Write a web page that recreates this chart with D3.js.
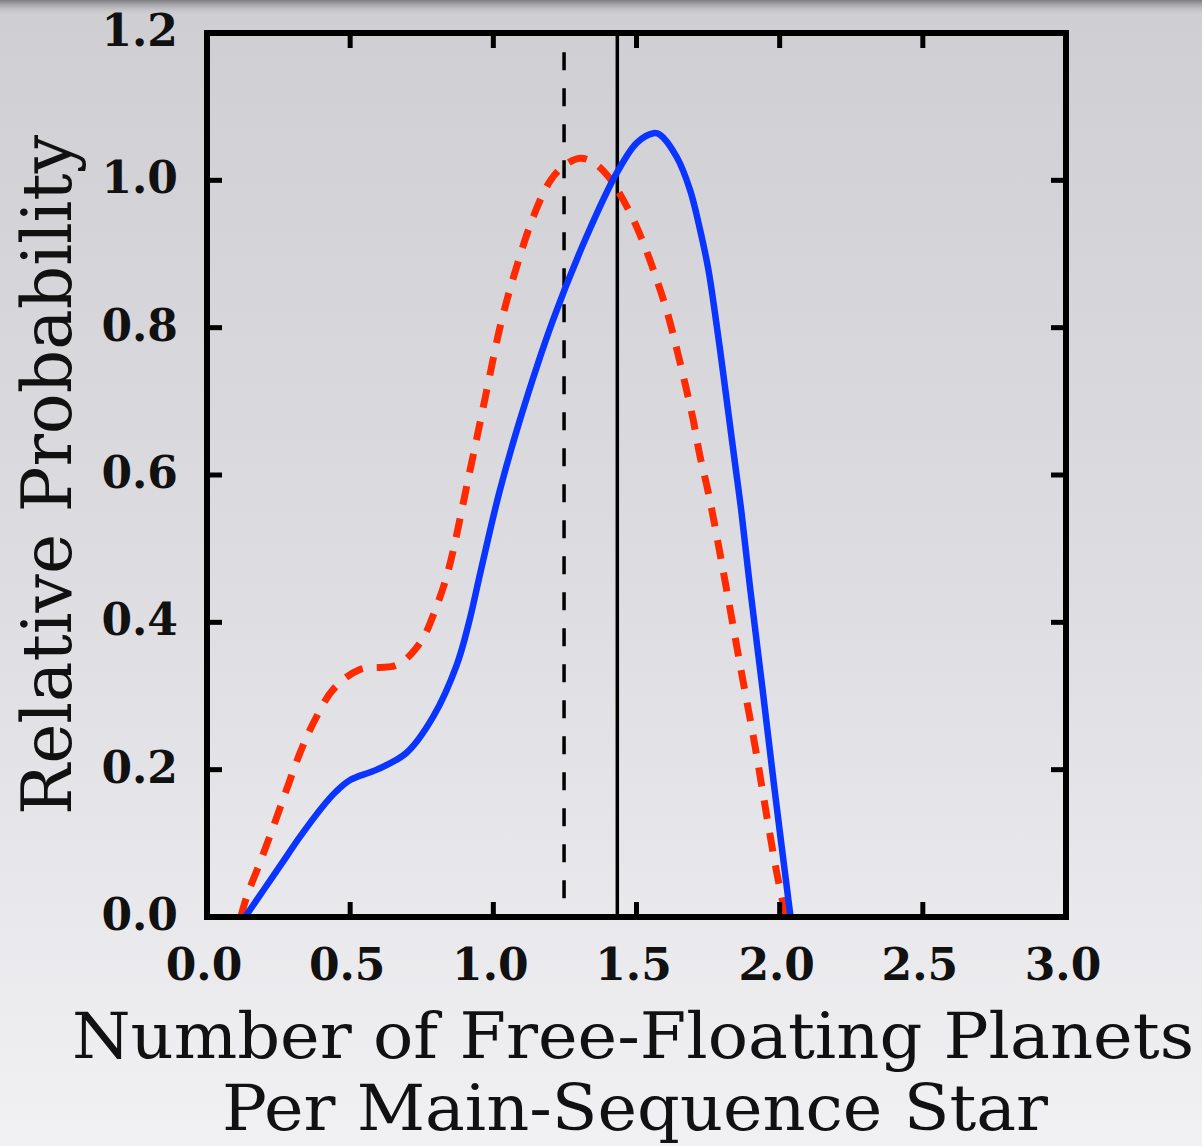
<!DOCTYPE html>
<html>
<head>
<meta charset="utf-8">
<script src="https://cdn.jsdelivr.net/npm/d3@7"></script>
<style>
html,body{margin:0;padding:0;background:#e2e2e6;}
svg{display:block;}
</style>
</head>
<body>
<svg id="chart" width="1202" height="1146"></svg>
<script>
// ---- data ----
const xTicks = [0.0, 0.5, 1.0, 1.5, 2.0, 2.5, 3.0];
const yTicks = [0.0, 0.2, 0.4, 0.6, 0.8, 1.0, 1.2];
const xTickLabels = ["0.0","0.5","1.0","1.5","2.0","2.5","3.0"];
const yTickLabels = ["0.0","0.2","0.4","0.6","0.8","1.0","1.2"];

// blue solid curve
const blueX = [0.133, 0.20, 0.26, 0.325, 0.40, 0.45, 0.50, 0.593, 0.697, 0.79, 0.872, 0.915, 0.955, 1.02, 1.093, 1.209, 1.326, 1.431, 1.501, 1.559, 1.582, 1.640, 1.687, 1.722, 1.751, 1.774, 1.798, 1.821, 1.844, 1.867, 1.896, 1.94, 1.98, 2.038];
const blueY = [0.0, 0.038, 0.072, 0.109, 0.148, 0.170, 0.186, 0.200, 0.223, 0.272, 0.342, 0.400, 0.468, 0.575, 0.675, 0.811, 0.924, 1.010, 1.051, 1.064, 1.062, 1.032, 0.987, 0.933, 0.879, 0.820, 0.752, 0.684, 0.616, 0.548, 0.449, 0.310, 0.180, 0.0];

// red dashed curve
const redX = [0.118, 0.139, 0.185, 0.232, 0.278, 0.325, 0.371, 0.441, 0.534, 0.663, 0.744, 0.802, 0.843, 0.919, 0.977, 1.023, 1.070, 1.140, 1.198, 1.244, 1.303, 1.350, 1.402, 1.471, 1.524, 1.570, 1.605, 1.640, 1.669, 1.698, 1.722, 1.751, 1.798, 1.867, 1.914, 1.955, 1.990, 2.022];
const redY = [0.0, 0.028, 0.074, 0.123, 0.173, 0.223, 0.263, 0.309, 0.336, 0.342, 0.372, 0.422, 0.471, 0.607, 0.715, 0.800, 0.868, 0.951, 0.999, 1.019, 1.030, 1.024, 1.005, 0.961, 0.915, 0.866, 0.824, 0.772, 0.725, 0.675, 0.625, 0.576, 0.480, 0.331, 0.232, 0.137, 0.060, 0.0];

const solidLineX = 1.433;
const dashedLineX = 1.247;
const dashedLineTop = 1.174;

const xLabelLines = ["Number of Free-Floating Planets", "Per Main-Sequence Star"];
const yLabel = "Relative Probability";

// ---- layout ----
const svg = d3.select("#chart");
const W = 1202, H = 1146;
const pL = 207, pR = 1066, pT = 33, pB = 917;

const x = d3.scaleLinear().domain([0, 3]).range([pL, pR]);
const y = d3.scaleLinear().domain([0, 1.2]).range([pB, pT]);

// background
const defs = svg.append("defs");
const bg = defs.append("linearGradient").attr("id","bg").attr("x1",0).attr("y1",0).attr("x2",0).attr("y2",1);
bg.append("stop").attr("offset","0%").attr("stop-color","#cfced3");
bg.append("stop").attr("offset","50%").attr("stop-color","#dddde1");
bg.append("stop").attr("offset","100%").attr("stop-color","#f1f1f4");
svg.append("rect").attr("width",W).attr("height",H).attr("fill","url(#bg)");
const sh = defs.append("linearGradient").attr("id","sh").attr("x1",0).attr("y1",0).attr("x2",0).attr("y2",1);
sh.append("stop").attr("offset","0%").attr("stop-color","#7c7b80").attr("stop-opacity",1);
sh.append("stop").attr("offset","100%").attr("stop-color","#cfced3").attr("stop-opacity",0);
svg.append("rect").attr("width",W).attr("height",16).attr("fill","url(#sh)");

defs.append("clipPath").attr("id","clip").append("rect")
  .attr("x",pL).attr("y",pT).attr("width",pR-pL).attr("height",pB-pT);

const plot = svg.append("g").attr("clip-path","url(#clip)");

// vertical reference lines
plot.append("line")
  .attr("x1",x(dashedLineX)).attr("x2",x(dashedLineX))
  .attr("y1",y(dashedLineTop)).attr("y2",y(0))
  .attr("stroke","#000").attr("stroke-width",3.5).attr("stroke-dasharray","18,18");
plot.append("line")
  .attr("x1",x(solidLineX)).attr("x2",x(solidLineX))
  .attr("y1",y(1.2)).attr("y2",y(0))
  .attr("stroke","#000").attr("stroke-width",3.5);

const line = d3.line().x(d=>x(d[0])).y(d=>y(d[1])).curve(d3.curveCatmullRom.alpha(0.5));

plot.append("path")
  .datum(redX.map((v,i)=>[v, redY[i]]))
  .attr("d", line).attr("fill","none")
  .attr("stroke","#ff2a00").attr("stroke-width",7).attr("stroke-dasharray","19,14");

plot.append("path")
  .datum(blueX.map((v,i)=>[v, blueY[i]]))
  .attr("d", line).attr("fill","none")
  .attr("stroke","#0a34ff").attr("stroke-width",6.5);

// frame
svg.append("rect").attr("x",pL).attr("y",pT).attr("width",pR-pL).attr("height",pB-pT)
  .attr("fill","none").attr("stroke","#000").attr("stroke-width",6);

// ticks (inside, on all sides)
const tl = 15;
const tg = svg.append("g").attr("stroke","#000").attr("stroke-width",5);
xTicks.forEach(t=>{
  tg.append("line").attr("x1",x(t)).attr("x2",x(t)).attr("y1",pB).attr("y2",pB-tl);
  tg.append("line").attr("x1",x(t)).attr("x2",x(t)).attr("y1",pT).attr("y2",pT+tl);
});
yTicks.forEach(t=>{
  tg.append("line").attr("x1",pL).attr("x2",pL+tl).attr("y1",y(t)).attr("y2",y(t));
  tg.append("line").attr("x1",pR).attr("x2",pR-tl).attr("y1",y(t)).attr("y2",y(t));
});

// tick labels
const tickFont = "'DejaVu Serif', serif";
xTicks.forEach((t,i)=>{
  svg.append("text").attr("x",x(t)-3).attr("y",980)
    .attr("text-anchor","middle").attr("font-family",tickFont).attr("font-weight","bold")
    .attr("font-size",44).attr("fill","#111").text(xTickLabels[i]);
});
yTicks.forEach((t,i)=>{
  svg.append("text").attr("x",178).attr("y",y(t)+13)
    .attr("text-anchor","end").attr("font-family",tickFont).attr("font-weight","bold")
    .attr("font-size",44).attr("fill","#111").text(yTickLabels[i]);
});

// axis labels
const labFont = "'DejaVu Serif', serif";
svg.append("text").attr("x",633).attr("y",1058).attr("text-anchor","middle")
  .attr("font-family",labFont).attr("font-size",64).attr("fill","#111")
  .attr("textLength",1122).attr("lengthAdjust","spacingAndGlyphs").text(xLabelLines[0]);
svg.append("text").attr("x",635).attr("y",1130).attr("text-anchor","middle")
  .attr("font-family",labFont).attr("font-size",64).attr("fill","#111")
  .attr("textLength",826).attr("lengthAdjust","spacingAndGlyphs").text(xLabelLines[1]);
svg.append("text").attr("transform","translate(71,475) rotate(-90)").attr("text-anchor","middle")
  .attr("font-family",labFont).attr("font-size",70).attr("fill","#111")
  .attr("textLength",680).attr("lengthAdjust","spacingAndGlyphs").text(yLabel);
</script>
</body>
</html>
